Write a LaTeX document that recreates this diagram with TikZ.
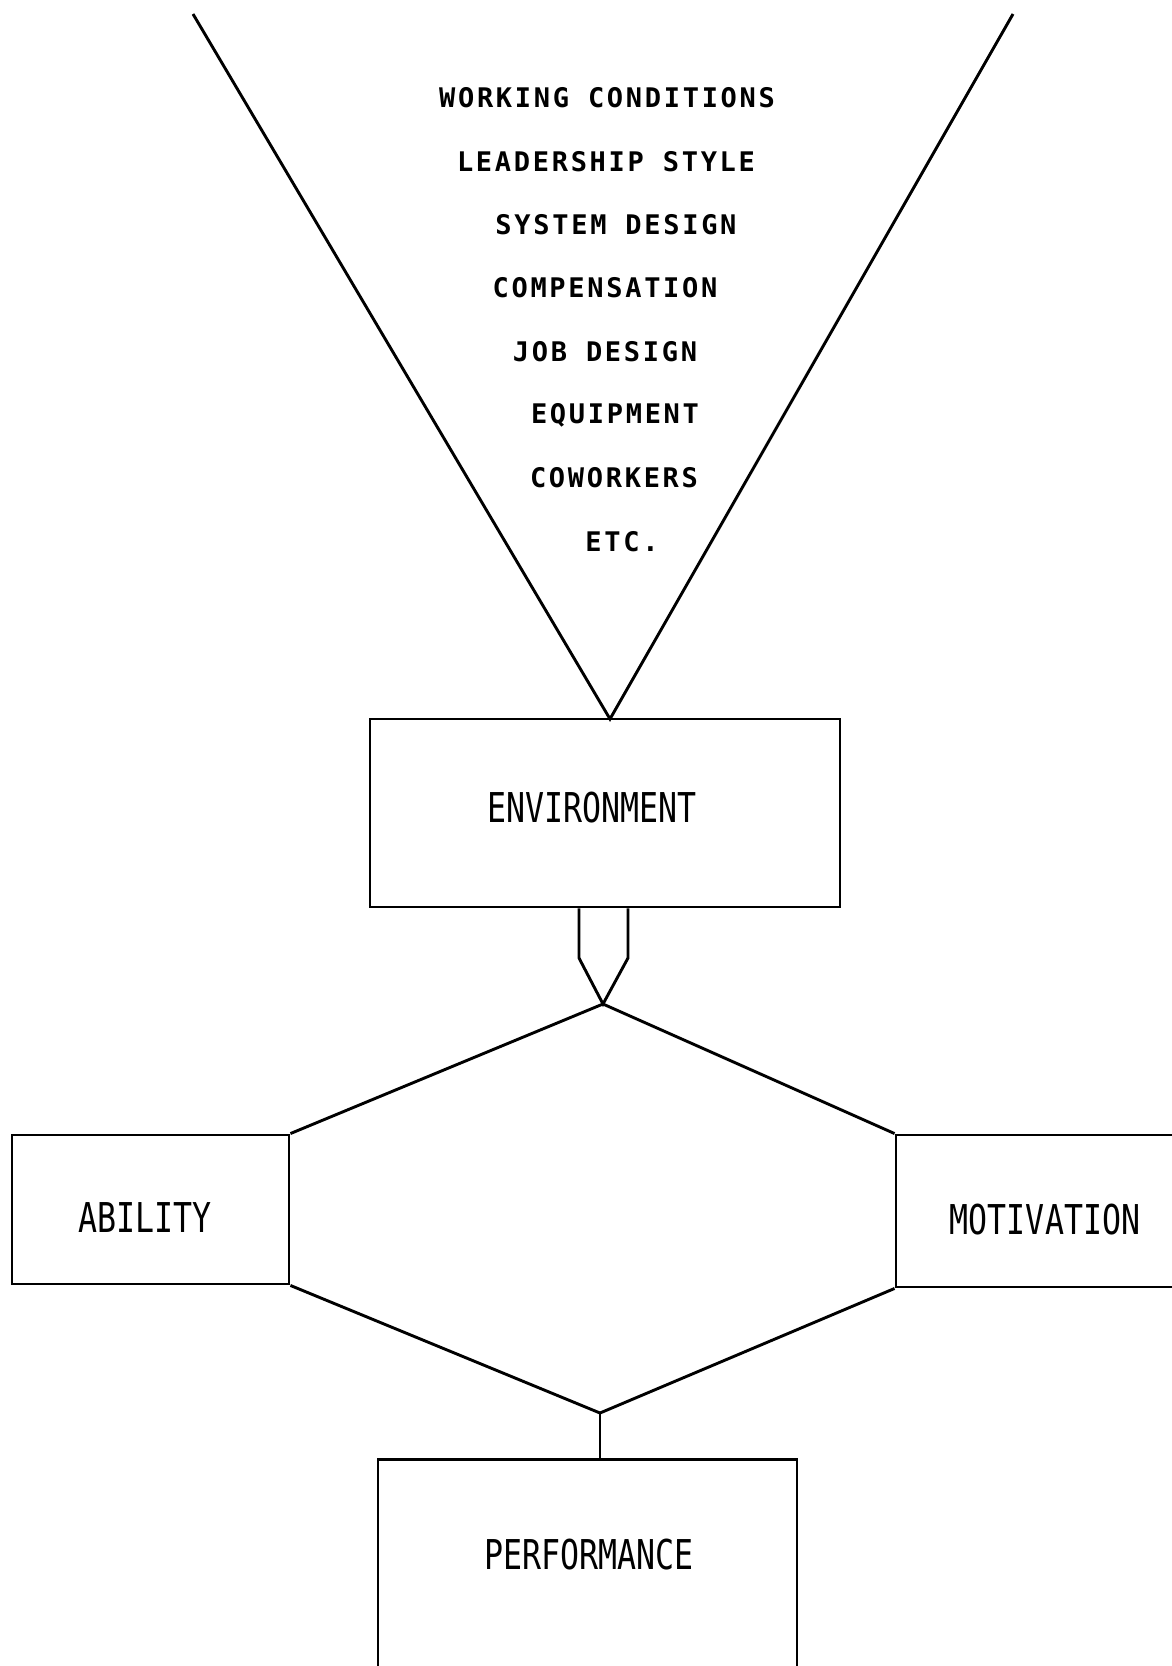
\documentclass[tikz,border=0pt]{standalone}
\usepackage{graphicx}
\usepackage{fontspec}
\newfontfamily\listfont[LetterSpace=10]{DejaVu Sans Mono}
\newfontfamily\boxfont{DejaVu Sans Mono}
\newcommand{\tall}[1]{\scalebox{1}[1.3]{#1}}
\usetikzlibrary{positioning,calc}

\begin{document}
\begin{tikzpicture}[x=1pt,y=-1pt,
        line width=2.9pt,
        every node/.style={inner sep=0pt},
        factor/.style={font=\listfont\bfseries\fontsize{27}{30}\selectfont},
        box/.style={draw,rectangle},
        boxtext/.style={font=\boxfont\fontsize{31.6}{34}\selectfont}
        ]
        \useasboundingbox (0,0) rectangle (1171,1666);

        % the funnel of environmental factors
        \coordinate (ftl) at (193,14);
        \coordinate (ftr) at (1013,14);
        \coordinate (tip) at (610,719);
        \node[factor] (f1) at (607,98) {WORKING CONDITIONS};
        \node[factor] (f2) at (606,162) {LEADERSHIP STYLE};
        \node[factor] (f3) at (616,225) {SYSTEM DESIGN};
        \node[factor] (f4) at (605,288) {COMPENSATION};
        \node[factor] (f5) at (605,352) {JOB DESIGN};
        \node[factor] (f6) at (615,415) {EQUIPMENT};
        \node[factor] (f7) at (614,478) {COWORKERS};
        \node[factor] (f8) at (622,542) {ETC.};

        % the boxes
        \node[box,minimum width=470,minimum height=188] (env) at (605,813) {};
        \node[boxtext] (envtext) at (592,808) {\tall{ENVIRONMENT}};
        \node[box,minimum width=277,minimum height=149] (abil) at (150.5,1209.5) {};
        \node[boxtext] (abiltext) at (145,1218) {\tall{ABILITY}};
        \node[box,minimum width=300,minimum height=152] (motiv) at (1046,1211) {};
        \node[boxtext] (motivtext) at (1045,1220) {\tall{MOTIVATION}};
        \node[box,minimum width=419,minimum height=260,anchor=north] (perf) at (587.5,1458) {};
        \node[boxtext] (perftext) at (589,1555) {\tall{PERFORMANCE}};

        % the hexagon
        \coordinate (hextop) at (603,1004);
        \coordinate (hexbot) at (600,1413);

        % the edges
        \draw (ftl) -- (tip) -- (ftr);
        \draw (env.south -| 579,0) -- (579,958) -- (hextop) -- (628,958) -- (env.south -| 628,0);
        \draw (abil.north east) -- (hextop) -- (motiv.north west);
        \draw (abil.south east) -- (hexbot) -- (motiv.south west);
        \draw (hexbot) -- (perf.north -| hexbot);
        \end{tikzpicture}
\end{document}
